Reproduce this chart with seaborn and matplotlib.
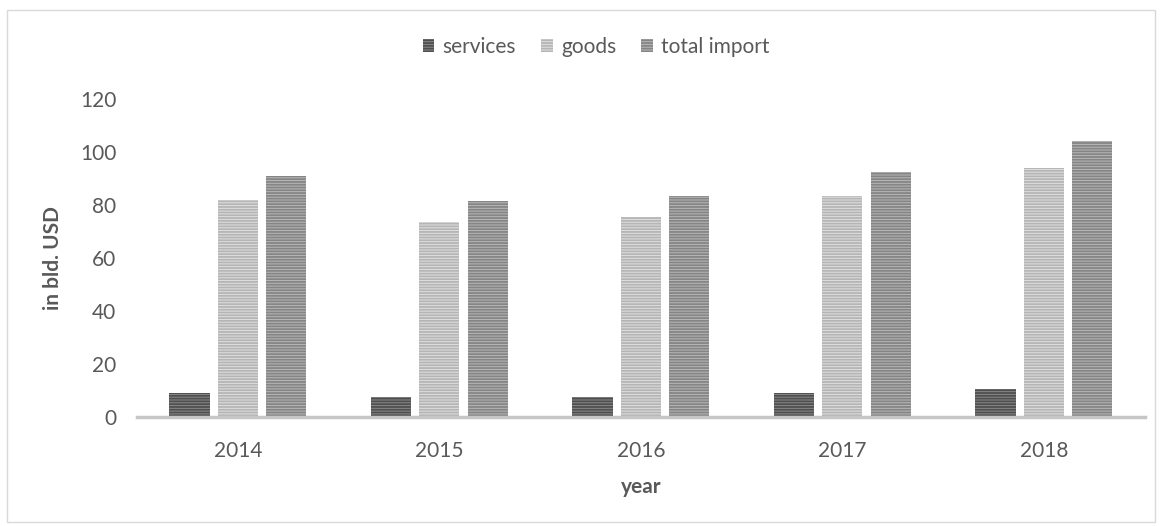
import matplotlib
matplotlib.use("Agg")
import matplotlib.pyplot as plt
import seaborn as sns
import pandas as pd
from matplotlib.patches import Rectangle

years = ["2014", "2015", "2016", "2017", "2018"]
series = ["services", "goods", "total import"]
services = [9.1, 7.7, 7.7, 9.2, 10.5]
goods = [82.0, 73.5, 75.5, 83.3, 93.8]
total_import = [91.0, 81.4, 83.3, 92.6, 104.3]
yticks = [0, 20, 40, 60, 80, 100, 120]

sns.set_theme(style="white")
plt.rcParams['font.family'] = ['Lato', 'DejaVu Sans']
plt.rcParams['hatch.linewidth'] = 1.3

rows = []
for name, vals in zip(series, [services, goods, total_import]):
    for y, v in zip(years, vals):
        rows.append({"year": y, "series": name, "value": v})
df = pd.DataFrame(rows)

faces = {"services": "#8a8a8a", "goods": "#e0e0e0", "total import": "#b8b8b8"}
hatchc = {"services": "#4f4f4f", "goods": "#b5b5b5", "total import": "#858585"}

FS = 15
fig = plt.figure(figsize=(11.62, 5.26), dpi=100)
ax = fig.add_axes([0.118, 0.207, 0.867, 0.605])

sns.barplot(data=df, x="year", y="value", hue="series", hue_order=series,
            order=years, palette=faces, width=0.72, gap=0.17, ax=ax,
            legend=False, errorbar=None)

handles = []
for cont, name in zip(ax.containers, series):
    for p in cont:
        p.set_hatch("------")
        p.set_edgecolor(hatchc[name])
        p.set_linewidth(0)
    handles.append(cont[0])

ax.set_ylim(0, 120)
ax.set_xlim(-0.5, 4.5)
ax.set_yticks(yticks)
ax.set_yticklabels([str(t) for t in yticks])
for s in ["left", "right", "top"]:
    ax.spines[s].set_visible(False)
ax.spines["bottom"].set_color("#c6c6c6")
ax.spines["bottom"].set_linewidth(2.5)
ax.tick_params(axis="both", length=0, labelsize=FS, labelcolor="#595959")
ax.tick_params(axis="y", pad=15)
ax.tick_params(axis="x", pad=17)
ax.set_xlabel("year", fontsize=FS, fontweight="bold", color="#595959", labelpad=12)
ax.set_ylabel("in bld. USD", fontsize=FS, fontweight="bold", color="#595959", labelpad=12)

fig.legend(handles, series, loc="center", bbox_to_anchor=(0.513, 0.911), ncol=3,
           frameon=False, fontsize=FS, labelcolor="#595959",
           handlelength=0.55, handleheight=0.55, handletextpad=0.4, columnspacing=1.2)

fig.patches.append(Rectangle((0.006, 0.008), 0.988, 0.973, transform=fig.transFigure,
                             fill=False, edgecolor="#d9d9d9", linewidth=1))

fig.savefig("out.png", dpi=100, facecolor="white")
